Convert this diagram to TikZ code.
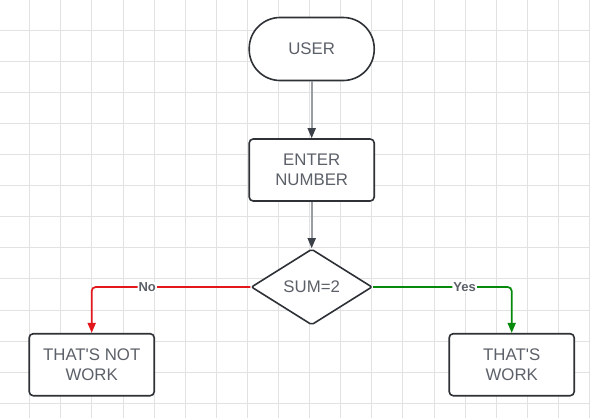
\documentclass[tikz,border=0pt]{standalone}
\usepackage{fontspec}
\setmainfont{Liberation Sans}
\usetikzlibrary{shapes.geometric,arrows.meta}
\definecolor{edgegray}{HTML}{9A9DA3}
\definecolor{tipgray}{HTML}{3C4049}
\definecolor{linedark}{HTML}{2E3136}
\definecolor{textgray}{HTML}{5C6068}
\definecolor{noRed}{HTML}{E3161B}
\definecolor{yesGreen}{HTML}{078A0B}
\definecolor{gridgray}{HTML}{E2E2E2}
\begin{document}
\begin{tikzpicture}[x=1pt, y=-1pt,
    base/.style = {draw=linedark, line width=1.6pt, fill=white, text=textgray, align=center,
      font=\fontsize{16.8}{20.5}\selectfont},
    term/.style = {base, rounded corners=31pt, minimum width=125pt, minimum height=63pt},
    box/.style = {base, rounded corners=4pt, minimum width=125pt, minimum height=62pt},
    test/.style = {base, diamond, rounded corners=2pt, minimum width=121pt, minimum height=76pt, inner sep=0pt},
    flow/.style = {draw=edgegray, line width=1.7pt, -{Triangle[length=10pt,width=8pt,color=tipgray]}},
    branch/.style = {line width=1.7pt, rounded corners=4pt, -{Triangle[length=10pt,width=8pt]}},
    tag/.style = {fill=white, inner sep=1pt, text=textgray, font=\fontsize{13}{15}\bfseries\selectfont}]
        \useasboundingbox[fill=white] (0,0) rectangle (590,418);
        % grid
        \foreach \i in {1,...,19} \draw[gridgray, line width=1pt] (-1.4+31.1*\i,0) -- (-1.4+31.1*\i,418);
        \foreach \j in {1,...,13} \draw[gridgray, line width=1pt] (0,-1+31.1*\j) -- (590,-1+31.1*\j);
        %
        \node[term] (user) at (311.7,49) {USER};
        \node[box, node distance=121pt] (enter) [below of=user] {ENTER\\NUMBER};
        \node[test, node distance=117pt] (sum) [below of=enter] {SUM=2};
        \node[box] (notwork) at (91.7,364.7) {THAT\textquotesingle S NOT\\WORK};
        \node[box] (work) at (511.7,364.7) {THAT\textquotesingle S\\WORK};
        %
        \draw[flow] (user) -- (enter);
        \draw[flow] (enter) -- (sum);
        \draw[branch, noRed] (sum.west) -| (notwork.north) node[tag, pos=0.325] {No};
        \draw[branch, yesGreen] (sum.east) -| (work.north) node[tag, pos=0.33] {Yes};
      \end{tikzpicture}
\end{document}
